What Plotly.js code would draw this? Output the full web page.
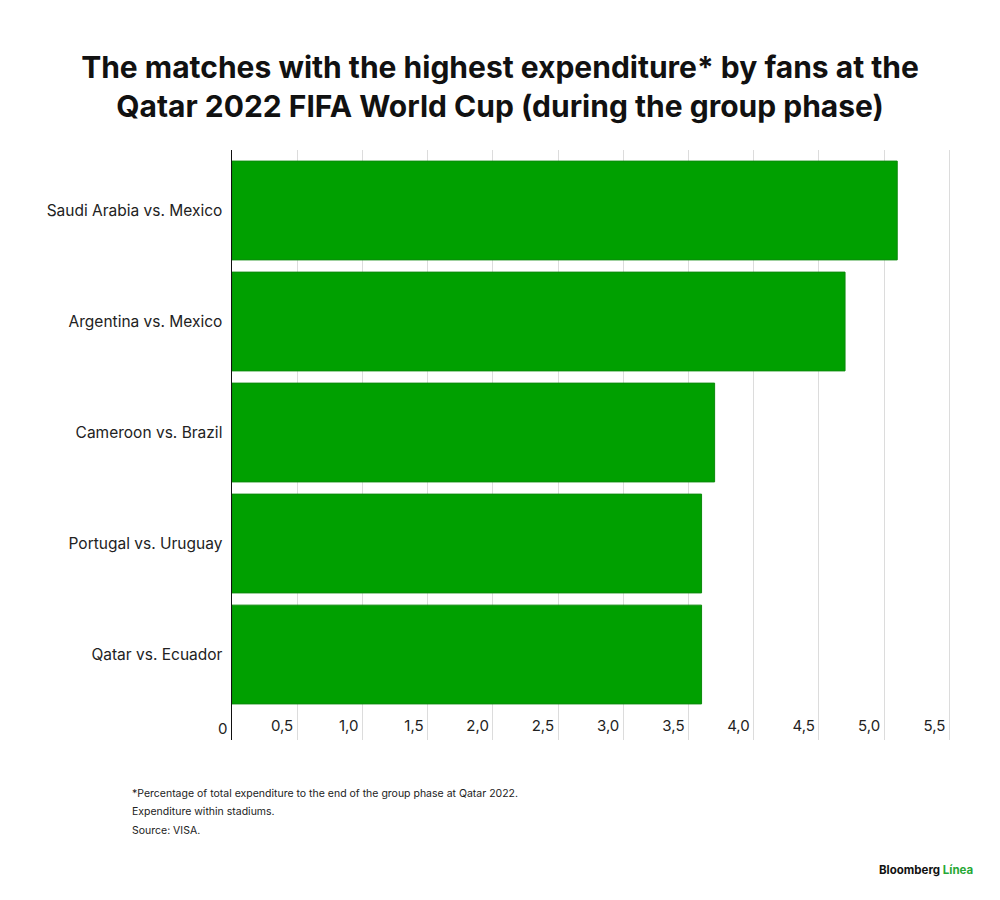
<!DOCTYPE html>
<html>
<head>
<meta charset="utf-8">
<script src="https://cdn.plot.ly/plotly-3.0.1.min.js"></script>
<style>
html,body{margin:0;padding:0;background:#fff;}
#chart{width:1000px;height:900px;}
</style>
</head>
<body>
<div id="chart"></div>
<script>
const matches = ["Saudi Arabia vs. Mexico", "Argentina vs. Mexico", "Cameroon vs. Brazil", "Portugal vs. Uruguay", "Qatar vs. Ecuador"];
const expenditureShare = [5.1, 4.7, 3.7, 3.6, 3.6];
const tickValues = [0, 0.5, 1, 1.5, 2, 2.5, 3, 3.5, 4, 4.5, 5, 5.5];
const tickLabels = ["0", "0,5", "1,0", "1,5", "2,0", "2,5", "3,0", "3,5", "4,0", "4,5", "5,0", "5,5"];
const footnotes = [
  "*Percentage of total expenditure to the end of the group phase at Qatar 2022.",
  "Expenditure within stadiums.",
  "Source: VISA."
];

const FONT = "Inter, 'Noto Sans', Roboto, sans-serif";
const PLOT_H = 590;

const trace = {
  type: "bar",
  orientation: "h",
  y: matches,
  x: expenditureShare,
  marker: {color: "#00a000", line: {color: "#0b8a0b", width: 1}},
  hoverinfo: "skip"
};

const annotations = [];
// "0" tick label sits left of the axis line (outside the plot area)
annotations.push({
  text: tickLabels[0],
  xref: "x", yref: "paper",
  x: tickValues[0], y: 0.019,
  xanchor: "right", yanchor: "middle",
  xshift: -3,
  showarrow: false,
  font: {family: FONT, size: 15, color: "#222222"}
});
footnotes.forEach(function (line, i) {
  annotations.push({
    text: line,
    xref: "paper", yref: "paper",
    x: -0.1415, y: -(53 + i * 18.5) / PLOT_H,
    xanchor: "left", yanchor: "middle", align: "left",
    showarrow: false,
    font: {family: FONT, size: 10.5, color: "#222222"}
  });
});
annotations.push({
  text: "<b>Bloomberg <span style='color:#27a836'>Línea</span></b>",
  xref: "paper", yref: "paper",
  x: 1.032, y: -130 / PLOT_H,
  xanchor: "right", yanchor: "middle",
  showarrow: false,
  font: {family: FONT, size: 11.5, color: "#111111"}
});

const layout = {
  width: 1000,
  height: 900,
  paper_bgcolor: "#ffffff",
  plot_bgcolor: "#ffffff",
  margin: {l: 232, r: 48, t: 150, b: 160},
  bargap: 0.11,
  showlegend: false,
  title: {
    text: "<b>The matches with the highest expenditure* by fans at the<br>Qatar 2022 FIFA World Cup (during the group phase)</b>",
    x: 0.5, xanchor: "center",
    y: 0.9135, yanchor: "middle",
    font: {family: FONT, size: 30, color: "#111111"}
  },
  xaxis: {
    range: [0, 5.52],
    tickmode: "array",
    tickvals: tickValues,
    ticktext: tickLabels,
    ticklabelposition: "inside left",
    ticklabelshift: -4,
    showgrid: true,
    gridcolor: "#dcdcdc",
    gridwidth: 1,
    zeroline: false,
    showline: false,
    ticks: "",
    tickfont: {family: FONT, size: 15, color: "#222222"},
    fixedrange: true
  },
  yaxis: {
    type: "category",
    categoryorder: "array",
    categoryarray: matches,
    range: [4.77, -0.545],
    showline: true,
    linecolor: "#111111",
    linewidth: 1.5,
    showgrid: false,
    zeroline: false,
    ticks: "",
    ticklabelstandoff: 5,
    tickfont: {family: FONT, size: 15.5, color: "#222222"},
    fixedrange: true
  },
  annotations: annotations
};

Plotly.newPlot("chart", [trace], layout, {displayModeBar: false, staticPlot: true});
</script>
</body>
</html>
